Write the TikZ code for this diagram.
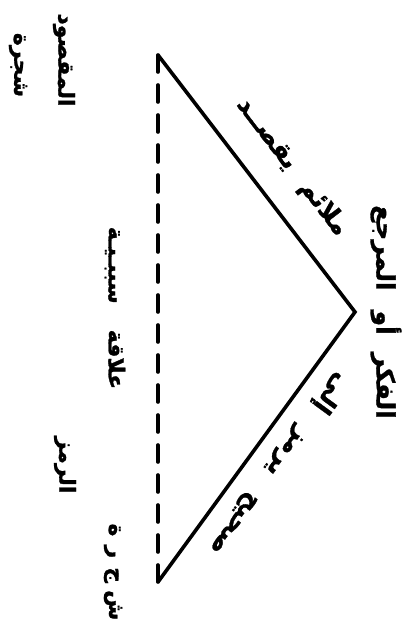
\documentclass[tikz,border=0pt]{standalone}
\usepackage{fontspec}
\newfontfamily\arb[Script=Arabic, BoldFeatures={FakeBold=1.2}]{DejaVu Sans}
\TeXXeTstate=1
\begin{document}
\begin{tikzpicture}[x=1pt,y=-1pt,
  lbl/.style={inner sep=0pt, font=\arb\bfseries\fontsize{22}{26}\selectfont},
  big/.style={font=\arb\bfseries\fontsize{25}{30}\selectfont},
  edge/.style={line width=3.6pt},
  dashedge/.style={line width=3.6pt, line cap=round, dash pattern=on 17pt off 13pt}]
\useasboundingbox (0,0) rectangle (417,628);
\coordinate (T) at (158,55);
\coordinate (A) at (355,312);
\coordinate (B) at (158,582);
\draw[edge] (T) -- (A) -- (B);
\draw[dashedge] (T) -- (B);
\node[lbl, big, rotate=-90] (thought) at (386,312) {\beginR الفكر\hspace{18pt}أو\hspace{20pt}المرجع\endR};
\node[lbl, rotate=-90] (ref) at (64,60) {\beginR المقصود\endR};
\node[lbl, rotate=-90] (refex) at (18,65) {\beginR شجرة\endR};
\node[lbl, rotate=-90] (sym) at (65,465) {\beginR الرمز\endR};
\node[lbl, rotate=-90] (symex) at (113,572) {\beginR ش\hspace{7pt}ج\hspace{9pt}ر\hspace{9pt}ة\endR};
\node[lbl, rotate=-90] (base) at (115,308) {\beginR علاقة\hspace{26pt}سببـيـة\endR};
\node[lbl, big, rotate=-52.6] (right) at (292,167) {\beginR ملائم\hspace{20pt}يقصــد\endR};
\node[lbl, big, rotate=-126.1] (left) at (279,464) {\beginR صحيح\hspace{26pt}يرمز\hspace{24pt}إلى\endR};
\end{tikzpicture}
\end{document}
